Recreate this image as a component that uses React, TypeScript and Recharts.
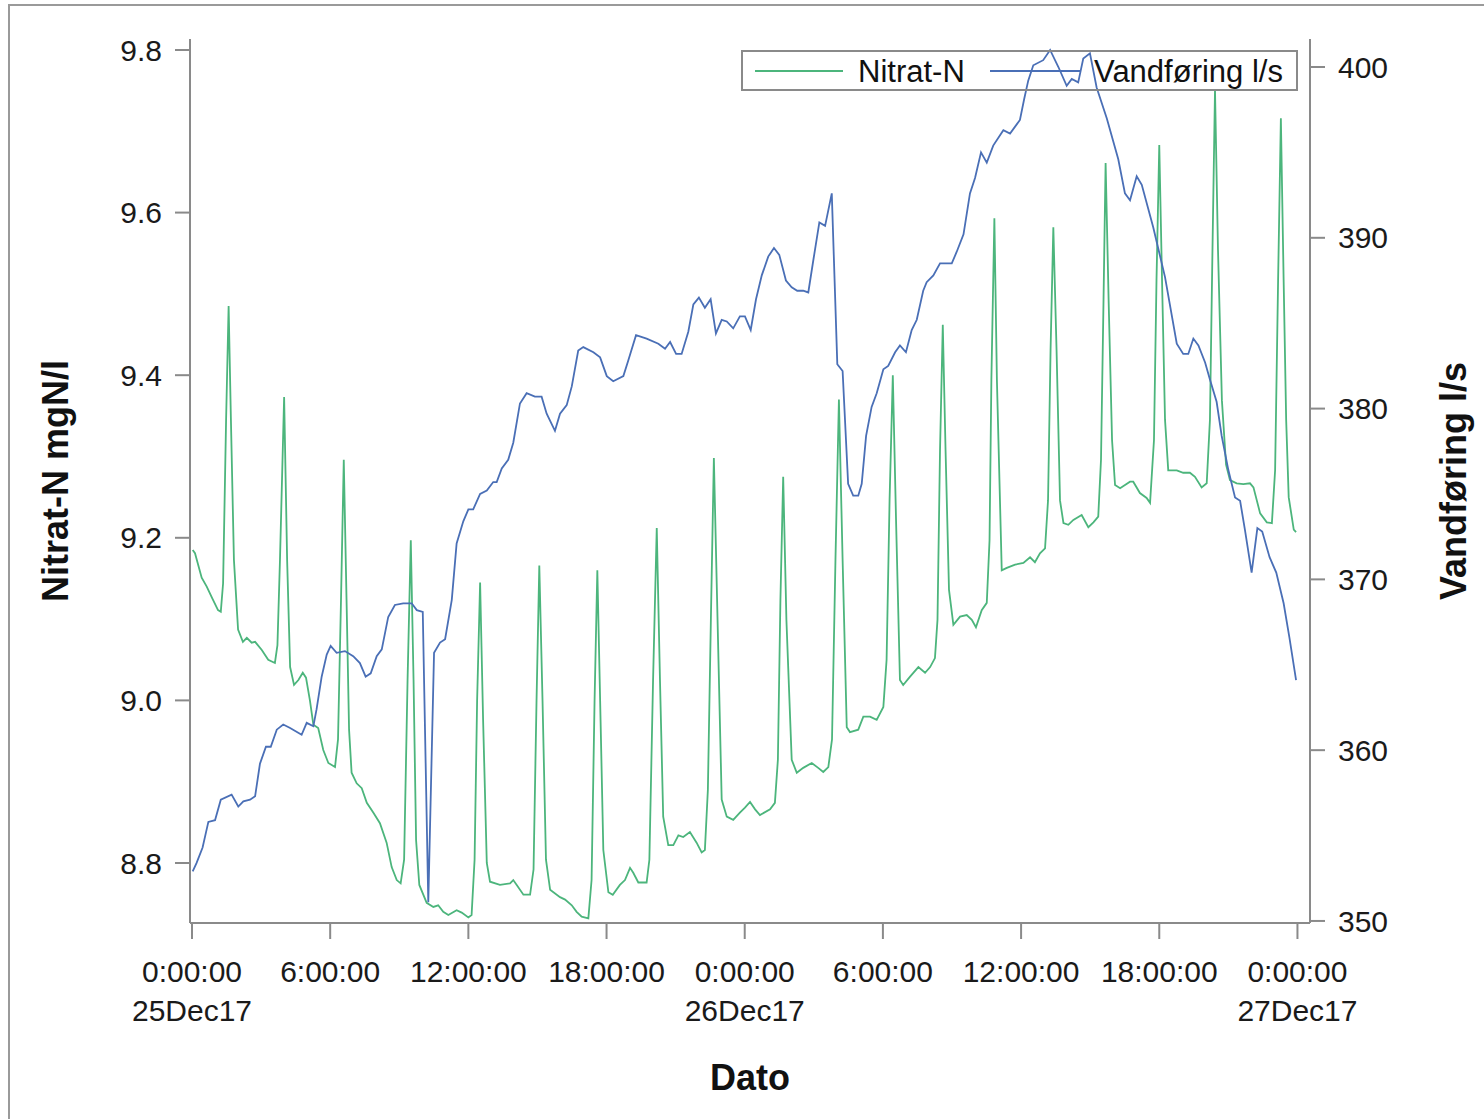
import React from 'react';
import { LineChart, Line, XAxis, YAxis, Legend } from 'recharts';

// ---- Nitrat-N (mgN/l) ----
const nitratHours = [
  0.03, 0.13, 0.42, 0.64, 0.87, 1.13, 1.25, 1.35, 1.48, 1.59, 1.69, 1.82, 2.0, 2.21, 2.38, 2.59, 2.74, 3.03, 3.31, 3.6,
  3.71, 3.82, 4.0, 4.13, 4.26, 4.43, 4.62, 4.81, 4.95, 5.12, 5.27, 5.48, 5.7, 5.92, 6.21, 6.34, 6.47, 6.59, 6.71, 6.82,
  6.93, 7.15, 7.37, 7.59, 7.87, 8.16, 8.45, 8.67, 8.89, 9.06, 9.21, 9.36, 9.5, 9.62, 9.73, 9.87, 10.19, 10.48, 10.69, 10.91,
  11.13, 11.49, 11.71, 12.0, 12.14, 12.27, 12.38, 12.51, 12.64, 12.8, 12.94, 13.37, 13.81, 13.95, 14.1, 14.39, 14.68, 14.83, 14.96, 15.08,
  15.22, 15.37, 15.55, 15.98, 16.2, 16.49, 16.7, 16.92, 17.21, 17.35, 17.48, 17.6, 17.74, 17.86, 18.08, 18.27, 18.58, 18.8, 19.02, 19.16,
  19.38, 19.74, 19.86, 20.02, 20.18, 20.32, 20.46, 20.68, 20.9, 21.12, 21.33, 21.62, 21.91, 22.13, 22.27, 22.4, 22.53, 22.66, 22.82, 23.0,
  23.22, 23.5, 23.79, 24.01, 24.23, 24.45, 24.66, 25.1, 25.31, 25.44, 25.55, 25.67, 25.81, 26.04, 26.26, 26.54, 26.91, 27.19, 27.41, 27.63,
  27.79, 27.94, 28.09, 28.25, 28.43, 28.57, 28.93, 29.15, 29.44, 29.73, 30.02, 30.16, 30.29, 30.43, 30.57, 30.74, 30.88, 31.17, 31.54, 31.83,
  32.05, 32.26, 32.37, 32.48, 32.6, 32.72, 32.87, 33.06, 33.35, 33.64, 33.86, 34.04, 34.29, 34.51, 34.63, 34.71, 34.84, 34.95, 35.16, 35.38,
  35.74, 36.1, 36.39, 36.6, 36.82, 37.04, 37.17, 37.28, 37.4, 37.54, 37.69, 37.84, 38.05, 38.27, 38.63, 38.92, 39.14, 39.35, 39.47, 39.58,
  39.67, 39.8, 39.95, 40.08, 40.3, 40.73, 40.87, 41.16, 41.45, 41.6, 41.77, 41.88, 42.0, 42.12, 42.25, 42.39, 42.76, 43.04, 43.33, 43.55,
  43.84, 44.06, 44.2, 44.31, 44.42, 44.55, 44.72, 44.9, 45.07, 45.36, 45.65, 45.94, 46.09, 46.38, 46.67, 46.89, 47.03, 47.16, 47.28, 47.4,
  47.51, 47.62, 47.84, 47.94,
];
const nitratValues = [
  9.185, 9.181, 9.151, 9.14, 9.126, 9.111, 9.109, 9.144, 9.345, 9.485, 9.345, 9.173, 9.087, 9.072, 9.077, 9.071, 9.072, 9.062, 9.05, 9.046,
  9.068, 9.173, 9.373, 9.173, 9.041, 9.019, 9.025, 9.034, 9.028, 9.0, 8.97, 8.966, 8.939, 8.923, 8.918, 8.952, 9.124, 9.296, 9.124, 8.964,
  8.911, 8.898, 8.892, 8.874, 8.862, 8.849, 8.825, 8.795, 8.779, 8.775, 8.804, 9.025, 9.197, 9.025, 8.828, 8.773, 8.751, 8.746, 8.748, 8.74,
  8.736, 8.742, 8.739, 8.733, 8.736, 8.804, 9.0, 9.145, 8.976, 8.8, 8.777, 8.773, 8.775, 8.779, 8.773, 8.761, 8.761, 8.792, 9.0, 9.166,
  9.0, 8.804, 8.767, 8.758, 8.755, 8.748, 8.74, 8.734, 8.732, 8.779, 9.0, 9.16, 8.976, 8.816, 8.764, 8.761, 8.773, 8.779, 8.794, 8.788,
  8.776, 8.776, 8.804, 9.025, 9.212, 9.025, 8.857, 8.822, 8.822, 8.834, 8.832, 8.838, 8.825, 8.813, 8.816, 8.89, 9.099, 9.298, 9.099, 8.878,
  8.857, 8.853, 8.862, 8.868, 8.875, 8.866, 8.859, 8.866, 8.874, 8.927, 9.124, 9.275, 9.099, 8.927, 8.911, 8.917, 8.923, 8.917, 8.912, 8.918,
  8.952, 9.173, 9.37, 9.173, 8.967, 8.961, 8.964, 8.98, 8.98, 8.976, 8.992, 9.05, 9.247, 9.4, 9.222, 9.025, 9.019, 9.029, 9.041, 9.034,
  9.041, 9.052, 9.099, 9.308, 9.462, 9.308, 9.136, 9.093, 9.103, 9.105, 9.099, 9.09, 9.111, 9.12, 9.197, 9.394, 9.593, 9.394, 9.16, 9.163,
  9.167, 9.169, 9.176, 9.17, 9.181, 9.187, 9.246, 9.431, 9.582, 9.431, 9.246, 9.218, 9.216, 9.222, 9.228, 9.213, 9.219, 9.226, 9.296, 9.493,
  9.661, 9.493, 9.32, 9.265, 9.261, 9.269, 9.269, 9.255, 9.249, 9.243, 9.32, 9.517, 9.683, 9.517, 9.345, 9.283, 9.283, 9.28, 9.28, 9.275,
  9.262, 9.267, 9.345, 9.554, 9.751, 9.554, 9.369, 9.29, 9.271, 9.267, 9.266, 9.267, 9.262, 9.23, 9.219, 9.218, 9.283, 9.517, 9.716, 9.517,
  9.345, 9.25, 9.21, 9.207,
];

// ---- Vandføring (l/s) ----
const flowHours = [
  0.03, 0.2, 0.46, 0.71, 1.0, 1.25, 1.72, 2.01, 2.23, 2.52, 2.74, 2.95, 3.21, 3.42, 3.68, 3.96, 4.26, 4.76, 4.98, 5.27,
  5.41, 5.63, 5.85, 6.02, 6.28, 6.64, 7.0, 7.29, 7.54, 7.76, 8.02, 8.24, 8.52, 8.81, 9.17, 9.54, 9.76, 10.02, 10.26, 10.51,
  10.77, 10.99, 11.28, 11.49, 11.78, 12.0, 12.21, 12.51, 12.8, 13.08, 13.23, 13.45, 13.73, 13.95, 14.24, 14.53, 14.89, 15.18, 15.4, 15.76,
  15.98, 16.27, 16.49, 16.77, 16.99, 17.43, 17.72, 18.01, 18.29, 18.73, 18.94, 19.28, 19.74, 20.25, 20.54, 20.76, 21.02, 21.26, 21.55, 21.77,
  22.01, 22.27, 22.52, 22.75, 23.0, 23.22, 23.5, 23.79, 24.01, 24.26, 24.49, 24.74, 25.02, 25.27, 25.5, 25.79, 26.04, 26.28, 26.54, 26.76,
  26.98, 27.24, 27.49, 27.78, 28.02, 28.25, 28.49, 28.71, 28.93, 29.08, 29.27, 29.51, 29.73, 30.02, 30.23, 30.53, 30.74, 31.0, 31.25, 31.47,
  31.75, 31.9, 32.19, 32.48, 32.99, 33.21, 33.5, 33.78, 34.0, 34.26, 34.51, 34.79, 35.23, 35.52, 35.95, 36.13, 36.31, 36.53, 36.96, 37.26,
  37.62, 37.98, 38.2, 38.48, 38.7, 38.99, 39.28, 39.72, 40.22, 40.51, 40.73, 41.02, 41.24, 41.74, 42.25, 42.76, 43.04, 43.26, 43.48, 43.7,
  43.99, 44.2, 44.49, 44.71, 45.0, 45.29, 45.51, 45.72, 46.01, 46.26, 46.47, 46.79, 47.08, 47.4, 47.65, 47.94,
];
const flowValues = [
  352.9, 353.4, 354.3, 355.8, 355.9, 357.1, 357.4, 356.7, 357.0, 357.1, 357.3, 359.2, 360.2, 360.2, 361.2, 361.5, 361.3, 360.9, 361.6, 361.4,
  362.4, 364.3, 365.6, 366.1, 365.7, 365.8, 365.5, 365.1, 364.3, 364.5, 365.5, 365.9, 367.8, 368.5, 368.6, 368.6, 368.2, 368.1, 351.1, 365.7,
  366.3, 366.5, 368.8, 372.1, 373.4, 374.1, 374.1, 375.0, 375.2, 375.7, 375.7, 376.5, 377.0, 378.0, 380.3, 380.9, 380.7, 380.7, 379.7, 378.7,
  379.7, 380.2, 381.3, 383.4, 383.6, 383.3, 383.0, 381.9, 381.6, 381.9, 382.8, 384.3, 384.1, 383.8, 383.5, 383.9, 383.2, 383.2, 384.5, 386.1,
  386.5, 385.9, 386.4, 384.4, 385.2, 385.1, 384.7, 385.4, 385.4, 384.6, 386.4, 387.8, 388.9, 389.4, 389.0, 387.5, 387.1, 386.9, 386.9, 386.8,
  388.7, 390.9, 390.7, 392.6, 382.6, 382.2, 375.6, 374.9, 374.9, 375.6, 378.4, 380.1, 380.9, 382.3, 382.5, 383.3, 383.7, 383.3, 384.6, 385.2,
  386.9, 387.4, 387.8, 388.5, 388.5, 389.2, 390.2, 392.6, 393.5, 395.0, 394.4, 395.4, 396.3, 396.1, 396.9, 398.1, 399.2, 400.1, 400.4, 401.0,
  400.0, 398.9, 399.3, 399.1, 400.5, 400.8, 398.8, 397.0, 394.6, 392.6, 392.2, 393.6, 393.1, 390.6, 387.7, 383.8, 383.2, 383.2, 384.1, 383.7,
  382.7, 381.7, 380.4, 378.4, 376.4, 374.8, 374.6, 372.9, 370.4, 373.0, 372.8, 371.3, 370.4, 368.6, 366.6, 364.1,
];

// ---- axes ----
const xTicks = [0, 6, 12, 18, 24, 30, 36, 42, 48];
const timeLabels = ['0:00:00', '6:00:00', '12:00:00', '18:00:00', '0:00:00', '6:00:00', '12:00:00', '18:00:00', '0:00:00'];
const dateLabels = ['25Dec17', '', '', '', '26Dec17', '', '', '', '27Dec17'];
const leftTicks = [8.8, 9.0, 9.2, 9.4, 9.6, 9.8];
const rightTicks = [350, 360, 370, 380, 390, 400];
const xDomain = [-0.087, 48.545];
const leftDomain = [8.7262, 9.8135];
const rightDomain = [349.88, 401.64];

const seriesNames = ['Nitrat-N', 'Vandføring l/s'];
const GREEN = '#4cb57c';
const BLUE = '#4a6fb6';
const AXIS = '#8a8a8a';
const FONT = '"Liberation Sans", Arial, Helvetica, sans-serif';

const nitratData = nitratHours.map((h, i) => ({ h, nitrat: nitratValues[i] }));
const flowData = flowHours.map((h, i) => ({ h, flow: flowValues[i] }));

const W = 1476;
const H = 1105;
const margin = { top: 31, left: 52, right: 44, bottom: 110 };
const yAxisW = 130;
const xAxisH = 80;
const plotLeft = margin.left + yAxisW;
const plotRight = W - margin.right - yAxisW;
const plotTop = margin.top;
const plotBottom = H - margin.bottom - xAxisH;

const XTick = (props: any) => {
  const { x, y, payload } = props;
  const i = xTicks.indexOf(payload.value);
  return (
    <g>
      <text x={x} y={y} textAnchor="middle" fontSize={30} fill="#1a1a1a" fontFamily={FONT}>
        <tspan x={x} dy={43}>{timeLabels[i]}</tspan>
        <tspan x={x} dy={39}>{dateLabels[i]}</tspan>
      </text>
    </g>
  );
};

const LeftTitle = () => {
  const cy = (plotTop + plotBottom) / 2;
  const bx = 60;
  return (
    <text x={bx} y={cy} transform={`rotate(-90 ${bx} ${cy})`} textAnchor="middle" fontSize={36} fontWeight="bold" fill="#111" fontFamily={FONT}>
      Nitrat-N mgN/l
    </text>
  );
};

const RightTitle = () => {
  const cy = (plotTop + plotBottom) / 2;
  const bx = 1458;
  return (
    <text x={bx} y={cy} transform={`rotate(-90 ${bx} ${cy})`} textAnchor="middle" fontSize={36} fontWeight="bold" fill="#111" fontFamily={FONT}>
      Vandføring l/s
    </text>
  );
};

const BottomTitle = () => {
  const cx = (plotLeft + plotRight) / 2;
  return (
    <text x={cx} y={1082} textAnchor="middle" fontSize={36} fontWeight="bold" fill="#111" fontFamily={FONT}>
      Dato
    </text>
  );
};

const LegendBox = () => (
  <svg width={557} height={41} style={{ display: 'block', overflow: 'visible' }}>
    <rect x={1} y={1} width={555} height={39} fill="none" stroke={AXIS} strokeWidth={2} />
    <line x1={14} y1={21} x2={102} y2={21} stroke={GREEN} strokeWidth={1.8} />
    <text x={117} y={32} fontSize={31} fill="#111" fontFamily={FONT}>{seriesNames[0]}</text>
    <line x1={249} y1={21} x2={339} y2={21} stroke={BLUE} strokeWidth={1.8} />
    <text x={353} y={32} fontSize={31} fill="#111" fontFamily={FONT}>{seriesNames[1]}</text>
  </svg>
);

const tickStyle = { fontSize: 30, fill: '#1a1a1a', fontFamily: FONT };

export default function App() {
  return (
    <div style={{ position: 'relative', width: W, height: H, background: '#fff' }}>
      <div
        style={{
          position: 'fixed',
          left: 8,
          top: 4,
          width: 1490,
          height: 1130,
          borderLeft: '2px solid #9a9a9a',
          borderTop: '2px solid #9a9a9a',
          pointerEvents: 'none',
          zIndex: 5,
        }}
      />
      <LineChart width={W} height={H} margin={margin}>
        <XAxis
          xAxisId="bottom"
          dataKey="h"
          type="number"
          domain={xDomain}
          allowDataOverflow
          ticks={xTicks}
          interval={0}
          height={xAxisH}
          tickSize={16}
          tickMargin={0}
          tick={<XTick />}
          stroke={AXIS}
          axisLine={{ stroke: AXIS, strokeWidth: 2 }}
          tickLine={{ stroke: AXIS, strokeWidth: 2 }}
          label={<BottomTitle />}
        />
        <XAxis
          xAxisId="top"
          orientation="top"
          type="number"
          domain={xDomain}
          allowDataOverflow
          height={0}
          tick={false}
          tickLine={false}
          axisLine={{ stroke: AXIS, strokeWidth: 2 }}
        />
        <YAxis
          yAxisId="left"
          orientation="left"
          type="number"
          domain={leftDomain}
          allowDataOverflow
          ticks={leftTicks}
          interval={0}
          width={yAxisW}
          tickFormatter={(v: number) => v.toFixed(1)}
          tickSize={15}
          tickMargin={13}
          tick={tickStyle}
          axisLine={{ stroke: AXIS, strokeWidth: 2 }}
          tickLine={{ stroke: AXIS, strokeWidth: 2 }}
          label={<LeftTitle />}
        />
        <YAxis
          yAxisId="right"
          orientation="right"
          type="number"
          domain={rightDomain}
          allowDataOverflow
          ticks={rightTicks}
          interval={0}
          width={yAxisW}
          tickSize={15}
          tickMargin={13}
          tick={tickStyle}
          axisLine={{ stroke: AXIS, strokeWidth: 2 }}
          tickLine={{ stroke: AXIS, strokeWidth: 2 }}
          label={<RightTitle />}
        />
        <Line
          data={nitratData}
          xAxisId="bottom"
          yAxisId="left"
          dataKey="nitrat"
          name={seriesNames[0]}
          type="linear"
          stroke={GREEN}
          strokeWidth={1.8}
          dot={false}
          activeDot={false}
          isAnimationActive={false}
        />
        <Line
          data={flowData}
          xAxisId="bottom"
          yAxisId="right"
          dataKey="flow"
          name={seriesNames[1]}
          type="linear"
          stroke={BLUE}
          strokeWidth={1.8}
          dot={false}
          activeDot={false}
          isAnimationActive={false}
        />
        <Legend
          layout="horizontal"
          verticalAlign="middle"
          align="center"
          wrapperStyle={{ position: 'absolute', left: 733, top: 42, width: 557, height: 41 }}
          content={<LegendBox />}
        />
      </LineChart>
    </div>
  );
}
